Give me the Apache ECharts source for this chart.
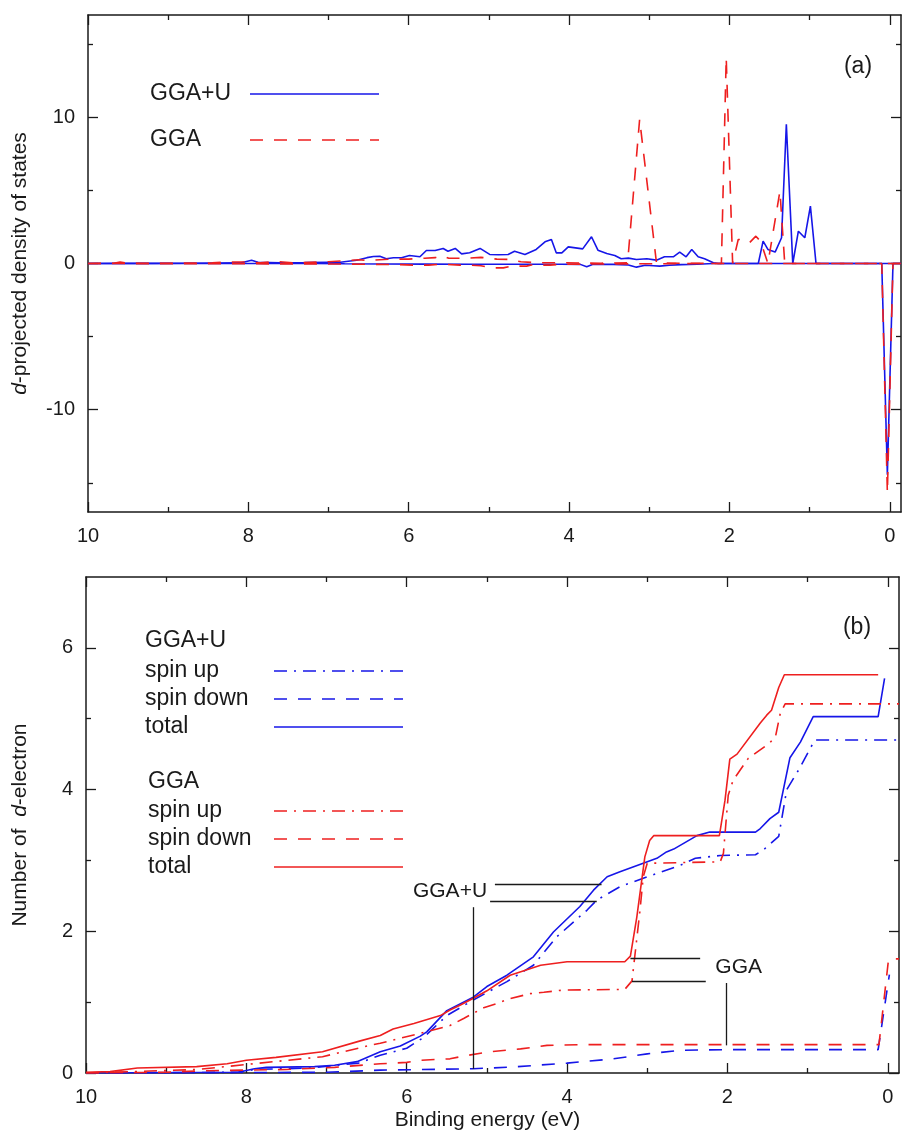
<!DOCTYPE html>
<html>
<head>
<meta charset="utf-8">
<title>d-projected DOS and d-electron count</title>
<script src="https://cdn.jsdelivr.net/npm/echarts@6/dist/echarts.min.js"></script>
<style>
  html, body { margin: 0; padding: 0; background: #ffffff; }
  #chart { width: 903px; height: 1132px; }
</style>
</head>
<body>
<div id="chart"></div>
<script>
// ---------- tick values ----------
const xMajorTicks = [0, 2, 4, 6, 8, 10];
const xMinorTicks = [1, 3, 5, 7, 9];
const dosMajorTicks = [-10, 0, 10];
const dosMinorTicks = [-15, -5, 5, 15];
const countMajorTicks = [0, 2, 4, 6];
const countMinorTicks = [1, 3, 5];

// ---------- (a) d-projected DOS, [binding energy (eV), states] ----------
const dosGGAUUp = [
  [10.0, 0], [9.6, 0.02], [9.2, 0.01], [8.8, 0.02], [8.4, 0.03], [8.1, 0.04], [7.96, 0.22], [7.88, 0.08],
  [7.6, 0.05], [7.3, 0.06], [7.0, 0.08], [6.9, 0.05], [6.78, 0.14], [6.65, 0.22], [6.52, 0.40], [6.44, 0.48],
  [6.36, 0.50], [6.28, 0.32], [6.19, 0.39], [6.09, 0.39], [5.99, 0.55], [5.86, 0.46], [5.78, 0.89], [5.67, 0.89],
  [5.57, 1.03], [5.51, 0.84], [5.42, 1.03], [5.34, 0.66], [5.24, 0.73], [5.11, 1.03], [4.99, 0.62], [4.88, 0.60],
  [4.76, 0.62], [4.68, 0.84], [4.55, 0.62], [4.41, 0.96], [4.30, 1.48], [4.22, 1.64], [4.16, 0.73], [4.09, 0.73],
  [4.01, 1.14], [3.83, 1.00], [3.72, 1.83], [3.64, 0.91], [3.53, 0.68], [3.43, 0.55], [3.35, 0.32], [3.26, 0.37],
  [3.16, 0.27], [3.03, 0.32], [2.91, 0.23], [2.81, 0.46], [2.70, 0.46], [2.62, 0.78], [2.54, 0.46], [2.47, 0.96],
  [2.39, 0.46], [2.31, 0.32], [2.20, 0.05], [2.14, 0], [1.64, 0], [1.58, 1.53], [1.52, 0.96], [1.43, 0.78],
  [1.35, 1.76], [1.29, 9.52], [1.21, 0], [1.14, 2.21], [1.06, 1.76], [0.99, 3.93], [0.92, 0], [-0.14, 0]
];
const dosGGAUDown = [
  [10.0, 0], [7.2, 0], [6.8, -0.02], [6.3, -0.03], [5.8, -0.04], [5.2, -0.05], [4.6, -0.05], [4.1, -0.05],
  [3.86, -0.06], [3.78, -0.23], [3.70, -0.05], [3.45, -0.06], [3.26, -0.10], [3.16, -0.25], [3.05, -0.12],
  [2.95, -0.15], [2.87, -0.18], [2.75, -0.12], [2.60, -0.08], [2.40, -0.05], [2.20, 0], [0.10, 0],
  [0.03, -14.45], [-0.04, 0], [-0.14, 0]
];
const dosGGAUp = [
  [10.0, 0], [9.68, 0.02], [9.6, 0.10], [9.52, 0.02], [9.0, 0.02], [8.45, 0.04], [8.3, 0.10], [8.0, 0.10],
  [7.85, 0.04], [7.65, 0.14], [7.45, 0.05], [7.0, 0.12], [6.82, 0.18], [6.62, 0.26], [6.5, 0.20], [6.36, 0.26],
  [6.2, 0.30], [6.0, 0.30], [5.8, 0.36], [5.67, 0.40], [5.59, 0.55], [5.5, 0.36], [5.3, 0.36], [5.1, 0.42],
  [4.9, 0.30], [4.75, 0.28], [4.6, 0.12], [4.4, 0.05], [4.1, 0.05], [3.6, 0.02], [3.27, 0.05], [3.12, 9.86],
  [2.91, 0.05], [2.6, 0.02], [2.2, 0], [2.10, 0], [2.04, 14.09], [1.96, 0], [1.89, 1.64], [1.82, 1.64],
  [1.75, 1.42], [1.67, 1.87], [1.61, 1.50], [1.52, 0], [1.37, 4.95], [1.31, 0], [-0.14, 0]
];
const dosGGADown = [
  [10.0, 0], [8.0, -0.02], [7.0, -0.03], [6.5, -0.05], [6.1, -0.08], [5.95, -0.11], [5.75, -0.11], [5.6, -0.05],
  [5.36, -0.11], [5.24, -0.11], [5.1, -0.15], [4.95, -0.30], [4.82, -0.30], [4.7, -0.15], [4.65, -0.18],
  [4.53, -0.18], [4.45, -0.08], [4.36, -0.11], [4.24, -0.11], [4.1, -0.05], [3.6, -0.03], [3.0, -0.02],
  [2.2, 0], [0.10, 0], [0.03, -15.7], [-0.04, 0], [-0.14, 0]
];

// ---------- (b) integrated number of d-electrons, [binding energy (eV), count] ----------
const countGGAUUp = [
  [10.0, 0], [8.1, 0.01], [7.9, 0.05], [7.2, 0.07], [6.6, 0.14], [6.33, 0.25], [6.0, 0.35], [5.79, 0.50],
  [5.5, 0.81], [5.17, 1.03], [4.75, 1.29], [4.42, 1.52], [4.13, 1.92], [3.75, 2.30], [3.63, 2.44], [3.34, 2.63],
  [3.0, 2.77], [2.59, 2.93], [2.40, 3.03], [2.09, 3.07], [1.65, 3.08], [1.55, 3.15], [1.36, 3.34], [1.26, 4.0],
  [1.11, 4.28], [0.91, 4.70], [-0.14, 4.70]
];
const countGGAUDown = [
  [10.0, 0], [7.0, 0.01], [6.33, 0.04], [5.17, 0.06], [4.67, 0.085], [4.0, 0.14], [3.42, 0.20], [3.0, 0.27],
  [2.59, 0.32], [2.0, 0.33], [0.12, 0.33], [-0.02, 1.39]
];
const countGGAUTotal = [
  [10.0, 0], [8.1, 0.01], [7.9, 0.06], [7.75, 0.08], [7.15, 0.09], [6.9, 0.11], [6.62, 0.16], [6.33, 0.30],
  [6.08, 0.38], [5.83, 0.52], [5.75, 0.58], [5.5, 0.88], [5.17, 1.07], [5.0, 1.22], [4.75, 1.38], [4.42, 1.64],
  [4.17, 1.99], [3.84, 2.35], [3.67, 2.58], [3.50, 2.77], [3.34, 2.84], [3.05, 2.96], [2.88, 3.03], [2.76, 3.12],
  [2.67, 3.16], [2.38, 3.35], [2.22, 3.40], [1.65, 3.40], [1.59, 3.45], [1.47, 3.59], [1.36, 3.68], [1.22, 4.45],
  [1.09, 4.67], [0.93, 5.03], [0.12, 5.03], [0.04, 5.57]
];
const countGGAUp = [
  [10.0, 0], [9.4, 0.02], [8.6, 0.05], [8.0, 0.12], [7.05, 0.23], [6.42, 0.40], [6.33, 0.42], [5.83, 0.56],
  [5.46, 0.67], [5.29, 0.77], [5.04, 0.92], [4.88, 0.98], [4.71, 1.05], [4.46, 1.12], [4.29, 1.14], [4.05, 1.17],
  [3.28, 1.18], [3.19, 1.30], [3.09, 2.30], [3.05, 2.77], [3.0, 2.96], [2.09, 2.98], [2.05, 3.10], [1.99, 3.92],
  [1.93, 4.13], [1.74, 4.44], [1.47, 4.66], [1.40, 4.75], [1.34, 5.08], [1.28, 5.21], [-0.14, 5.21]
];
const countGGADown = [
  [10.0, 0], [9.0, 0.01], [8.58, 0.03], [7.5, 0.05], [6.9, 0.08], [6.33, 0.13], [6.0, 0.15], [5.83, 0.18],
  [5.46, 0.20], [5.29, 0.24], [4.96, 0.30], [4.58, 0.34], [4.25, 0.39], [3.84, 0.40], [0.11, 0.40],
  [-0.01, 1.61], [-0.14, 1.61]
];
const countGGATotal = [
  [10.0, 0.01], [9.7, 0.02], [9.36, 0.07], [8.62, 0.09], [8.24, 0.13], [8.0, 0.18], [7.63, 0.22], [7.05, 0.30],
  [6.59, 0.45], [6.33, 0.53], [6.17, 0.62], [5.91, 0.70], [5.58, 0.81], [5.46, 0.89], [5.33, 0.96], [5.21, 1.03],
  [5.0, 1.16], [4.71, 1.38], [4.33, 1.52], [4.0, 1.57], [3.28, 1.57], [3.21, 1.65], [3.13, 2.20], [3.03, 3.05],
  [2.97, 3.28], [2.92, 3.35], [2.10, 3.35], [2.03, 3.85], [1.97, 4.43], [1.88, 4.50], [1.59, 4.94], [1.51, 5.05],
  [1.45, 5.12], [1.36, 5.44], [1.29, 5.62], [0.12, 5.62]
];

// ---------- pointer lines and labels in panel (b), data coordinates ----------
const pointerLines = [
  [[4.90, 2.66], [3.57, 2.66]], [[4.96, 2.43], [3.63, 2.43]], [[5.17, 2.34], [5.17, 0.06]],
  [[3.21, 1.62], [2.34, 1.62]], [[3.19, 1.29], [2.27, 1.29]], [[2.01, 1.27], [2.01, 0.39]]
];
const pointerLabels = [
  { text: 'GGA+U', at: [5.46, 2.57] },
  { text: 'GGA', at: [1.86, 1.49] }
];

// ---------- styling ----------
const FONT = '"Liberation Sans", Arial, Helvetica, sans-serif';
const INK = '#1a1a1a';
const BLUE = '#1616e8';
const RED = '#ee1f1f';
const DASH = [13, 11];
const DASHDOT = [13, 7, 2, 7];
const X_MIN = -0.14, X_MAX = 10;

const grids = [
  { left: 88, top: 15, width: 813, height: 497 },
  { left: 86, top: 577, width: 813, height: 496 }
];

function tickAxisStyle(ticks, len, withLine) {
  return {
    axisLine: { show: withLine, onZero: false, lineStyle: { color: INK, width: 1.5 } },
    axisTick: { show: true, inside: true, length: len, customValues: ticks, lineStyle: { color: INK, width: 1.3 } },
    splitLine: { show: false }
  };
}
function labelStyle(ticks, margin) {
  return { show: true, customValues: ticks, margin: margin, fontSize: 20, color: INK, fontFamily: FONT };
}

function xAxesFor(gridIndex, name) {
  const base = { type: 'value', gridIndex: gridIndex, min: X_MIN, max: X_MAX, inverse: true };
  const main = Object.assign({}, base, tickAxisStyle(xMajorTicks, 10, true), {
    position: 'bottom', axisLabel: labelStyle(xMajorTicks, 14)
  });
  if (name) {
    Object.assign(main, {
      name: name, nameLocation: 'middle', nameGap: 37,
      nameTextStyle: { fontSize: 21, color: INK, fontFamily: FONT, padding: [0, 10, 0, 0] }
    });
  }
  return [
    main,
    Object.assign({}, base, tickAxisStyle(xMinorTicks, 5, false), { position: 'bottom', axisLabel: { show: false } }),
    Object.assign({}, base, tickAxisStyle(xMajorTicks, 10, true), { position: 'top', axisLabel: { show: false } }),
    Object.assign({}, base, tickAxisStyle(xMinorTicks, 5, false), { position: 'top', axisLabel: { show: false } })
  ];
}

function yAxesFor(gridIndex, min, max, major, minor, name, nameGap) {
  const base = { type: 'value', gridIndex: gridIndex, min: min, max: max };
  return [
    Object.assign({}, base, tickAxisStyle(major, 10, true), {
      position: 'left', axisLabel: labelStyle(major, 13),
      name: name, nameLocation: 'middle', nameGap: nameGap,
      nameTextStyle: { fontSize: 21, color: INK, fontFamily: FONT, rich: { i: { fontStyle: 'italic', fontSize: 21, fontFamily: FONT, color: INK } } }
    }),
    Object.assign({}, base, tickAxisStyle(minor, 5, false), { position: 'left', axisLabel: { show: false } }),
    Object.assign({}, base, tickAxisStyle(major, 10, true), { position: 'right', axisLabel: { show: false } }),
    Object.assign({}, base, tickAxisStyle(minor, 5, false), { position: 'right', axisLabel: { show: false } })
  ];
}

function lineSeries(name, data, color, dash, panel, extra) {
  return Object.assign({
    type: 'line', name: name, data: data,
    xAxisIndex: panel * 4, yAxisIndex: panel * 4,
    symbol: 'none', showSymbol: false, smooth: false, silent: true, animation: false,
    color: color,
    lineStyle: { color: color, width: 1.6, type: dash }
  }, extra || {});
}

function legendBlock(names, left, top, gap, textWidth, stripPrefix) {
  return {
    data: names, orient: 'vertical', left: left, top: top, padding: 0,
    align: 'right', itemWidth: 129, itemHeight: 14, itemGap: gap, selectedMode: false,
    itemStyle: { opacity: 0, borderWidth: 0 },
    lineStyle: { width: 1.6 },
    formatter: function (n) { return '{t|' + (stripPrefix ? n.replace(stripPrefix, '') : n) + '}'; },
    textStyle: {
      fontSize: 23, color: INK, fontFamily: FONT, lineHeight: 28,
      rich: { t: { width: textWidth, align: 'left', fontSize: 23, lineHeight: 28, fontFamily: FONT, color: INK } }
    }
  };
}

const chart = echarts.init(document.getElementById('chart'), null, { renderer: 'canvas' });

chart.setOption({
  backgroundColor: '#ffffff',
  animation: false,
  grid: grids.map(function (g) { return Object.assign({ outerBoundsMode: 'none', containLabel: false }, g); }),
  xAxis: xAxesFor(0, null).concat(xAxesFor(1, 'Binding energy (eV)')),
  yAxis: yAxesFor(0, -17, 17, dosMajorTicks, dosMinorTicks, '{i|d}-projected density of states', 57)
    .concat(yAxesFor(1, 0, 7, countMajorTicks, countMinorTicks, 'Number of  {i|d}-electron', 55)),
  legend: [
    legendBlock(['GGA+U', 'GGA'], 150, 80, 18, 95, null),
    legendBlock(['GGA+U spin up', 'GGA+U spin down', 'GGA+U total'], 145, 657, 0, 124, /^GGA\+U /),
    legendBlock(['GGA spin up', 'GGA spin down', 'GGA total'], 148, 797, 0, 121, /^GGA /)
  ],
  graphic: [
    { type: 'text', x: 858, y: 67, style: { text: '(a)', fontSize: 23, fontFamily: FONT, fill: INK, align: 'center', verticalAlign: 'middle' } },
    { type: 'text', x: 857, y: 628, style: { text: '(b)', fontSize: 23, fontFamily: FONT, fill: INK, align: 'center', verticalAlign: 'middle' } },
    { type: 'text', x: 145, y: 641, style: { text: 'GGA+U', fontSize: 23, fontFamily: FONT, fill: INK, align: 'left', verticalAlign: 'middle' } },
    { type: 'text', x: 148, y: 782, style: { text: 'GGA', fontSize: 23, fontFamily: FONT, fill: INK, align: 'left', verticalAlign: 'middle' } }
  ],
  series: [
    lineSeries('GGA+U', dosGGAUUp, BLUE, 'solid', 0),
    lineSeries('GGA+U', dosGGAUDown, BLUE, 'solid', 0),
    lineSeries('GGA', dosGGAUp, RED, DASH, 0),
    lineSeries('GGA', dosGGADown, RED, DASH, 0),

    lineSeries('GGA+U spin up', countGGAUUp, BLUE, DASHDOT, 1),
    lineSeries('GGA+U spin down', countGGAUDown, BLUE, DASH, 1),
    lineSeries('GGA+U total', countGGAUTotal, BLUE, 'solid', 1),
    lineSeries('GGA spin up', countGGAUp, RED, DASHDOT, 1),
    lineSeries('GGA spin down', countGGADown, RED, DASH, 1),
    lineSeries('GGA total', countGGATotal, RED, 'solid', 1, {
      markLine: {
        silent: true, animation: false, symbol: ['none', 'none'],
        label: { show: false },
        lineStyle: { color: INK, width: 1.3, type: 'solid' },
        emphasis: { disabled: true },
        data: pointerLines.map(function (seg) { return [{ coord: seg[0] }, { coord: seg[1] }]; })
      },
      markPoint: {
        silent: true, animation: false, symbol: 'circle', symbolSize: 0,
        label: { show: true, position: 'inside', formatter: '{b}', fontSize: 21, color: INK, fontFamily: FONT },
        data: pointerLabels.map(function (p) { return { name: p.text, coord: p.at }; })
      }
    })
  ]
});
</script>
</body>
</html>
